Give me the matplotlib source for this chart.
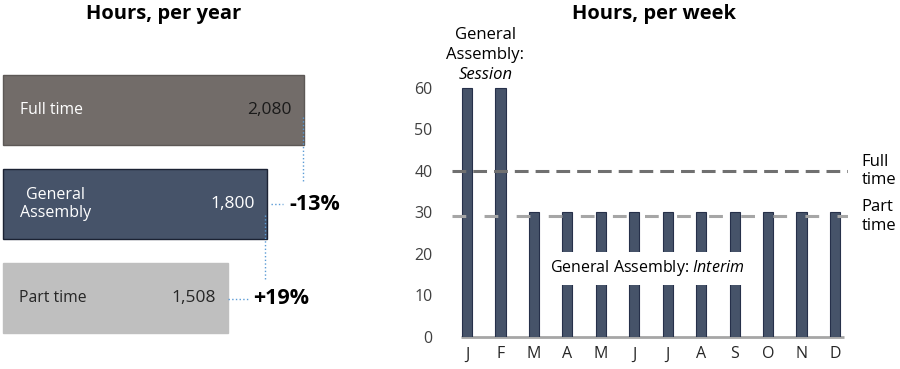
import numpy as np
import matplotlib.pyplot as plt
from matplotlib.patches import Rectangle

plt.rcParams['font.family'] = ['Open Sans', 'DejaVu Sans']
plt.rcParams['mathtext.fontset'] = 'custom'
plt.rcParams['mathtext.rm'] = 'Open Sans'
plt.rcParams['mathtext.it'] = 'Open Sans:italic'

# yearly hours
year_labels = ['Full time', 'General\nAssembly', 'Part time']
year_hours = [2080, 1800, 1508]
pct_labels = ['-13%', '+19%']

# weekly hours by month
months = ['J', 'F', 'M', 'A', 'M', 'J', 'J', 'A', 'S', 'O', 'N', 'D']
week_hours = [60, 60, 30, 30, 30, 30, 30, 30, 30, 30, 30, 30]
full_time_week = 40
part_time_week = 29
interim_gap = [12.5, 20.5]   # white band behind the "Interim" label

fig = plt.figure(figsize=(9, 3.69), dpi=100)

# ---------- left: hours per year ----------
ax1 = fig.add_axes([0, 24/369, 360/900, 282/369])
base = -195
bar_fc = ['#726c69', '#465369', '#bfbfbf']
bar_ec = ['#5d5856', '#1b2233', '#bfbfbf']
name_col = ['white', 'white', '#262626']
val_col = ['#1a1a1a', 'white', '#262626']
y = np.arange(len(year_hours))
ax1.barh(y, np.array(year_hours) - base, left=base, height=0.75,
         color=bar_fc, edgecolor=bar_ec, linewidth=1)
for i, v in enumerate(year_hours):
    ax1.text(v - 90, i, f'{v:,}', ha='right', va='center', fontsize=12.5,
             color=val_col[i])
ax1.text(-68, 0, year_labels[0], ha='left', va='center', fontsize=11.3, color=name_col[0])
ax1.text(200, 1, year_labels[1], ha='center', va='center', fontsize=11.5,
         color=name_col[1], linespacing=1.2)
ax1.text(-76, 2, year_labels[2], ha='left', va='center', fontsize=11.3, color=name_col[2])

dot = dict(color='#5b9bd5', linestyle=':', linewidth=1)
ax1.plot([year_hours[0] - 4, year_hours[0] - 4], [0.07, 0.76], **dot)
ax1.plot([1833, 1925], [1.0, 1.0], **dot)
ax1.text(1975, 1.0, pct_labels[0], ha='left', va='center', fontsize=15.5, fontweight='bold')
ax1.plot([year_hours[1] - 12, year_hours[1] - 12], [1.12, 1.81], **dot)
ax1.plot([year_hours[2], 1672], [2.01, 2.01], **dot)
ax1.text(1695, 2.0, pct_labels[1], ha='left', va='center', fontsize=15.5, fontweight='bold')

ax1.set_xlim(-220, 2508)
ax1.set_ylim(2.5, -0.5)
ax1.axis('off')

# ---------- right: hours per week ----------
ax2 = fig.add_axes([452/900, (369 - 336.7)/369, 396/900, 62*4.15/369])
x = np.arange(len(months))
ax2.bar(x, week_hours, width=0.3, color='#465369', edgecolor='#26304a',
        linewidth=0.8, zorder=2)
ax2.add_patch(Rectangle((2.6, interim_gap[0]), 5.8, interim_gap[1] - interim_gap[0],
                        facecolor='white', edgecolor='none', zorder=3))
ax2.plot([-0.18, 11.27], [0, 0], color='#a6a6a6', linewidth=2, zorder=1,
         clip_on=False, solid_capstyle='butt')
ax2.axhline(full_time_week, color='#707070', linewidth=2.2,
            dashes=(4.5, 2.3), zorder=4)
ax2.axhline(part_time_week, color='#a6a6a6', linewidth=2.2,
            dashes=(4.5, 6), zorder=4)

ax2.text(11.8, full_time_week, 'Full\ntime', ha='left', va='center', fontsize=12,
         linespacing=1.2, clip_on=False)
ax2.text(11.8, part_time_week, 'Part\ntime', ha='left', va='center', fontsize=12,
         linespacing=1.2, clip_on=False)
ax2.text(0.55, 72.7, 'General', ha='center', va='center', fontsize=12, clip_on=False)
ax2.text(0.55, 67.9, 'Assembly:', ha='center', va='center', fontsize=12, clip_on=False)
ax2.text(0.55, 63.1, 'Session', ha='center', va='center', fontsize=12,
         style='italic', clip_on=False)
ax2.text(2.48, 16.5, 'General Assembly: $Interim$', ha='left', va='center',
         fontsize=11.5, zorder=5)

ax2.set_xlim(-0.45, 11.39)
ax2.set_ylim(0, 62)
ax2.set_yticks(range(0, 61, 10))
ax2.set_xticks(x)
ax2.set_xticklabels(months)
ax2.tick_params(axis='y', length=0, pad=14, labelsize=11.5, labelcolor='#404040')
ax2.tick_params(axis='x', length=0, pad=7, labelsize=11.5, labelcolor='#262626')
for s in ax2.spines.values():
    s.set_visible(False)

fig.text(164/900, 1 - 14/369, 'Hours, per year', ha='center', va='center',
         fontsize=14.5, fontweight='bold')
fig.text(654/900, 1 - 14/369, 'Hours, per week', ha='center', va='center',
         fontsize=14.5, fontweight='bold')

fig.savefig('out.png', dpi=100)
